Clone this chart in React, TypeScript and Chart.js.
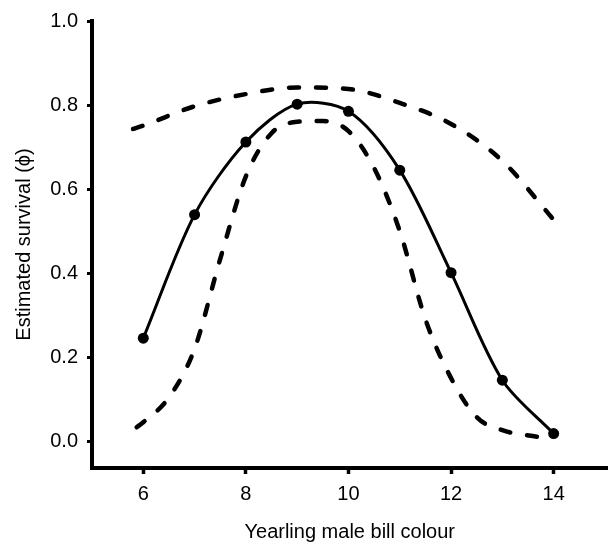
import React, { useEffect, useRef } from "react";
import { Chart, registerables } from "chart.js";

Chart.register(...registerables);

// Fitted survival curve (solid line with points)
const solidX = [6, 7, 8, 9, 10, 11, 12, 13, 14];
const solidY = [0.245, 0.539, 0.712, 0.802, 0.785, 0.645, 0.401, 0.145, 0.018];

// Upper confidence bound (dashed)
const upperX = [5.8, 6, 7, 8, 9, 10, 11, 12, 13, 14];
const upperY = [0.743, 0.751, 0.797, 0.826, 0.842, 0.838, 0.805, 0.755, 0.667, 0.527];

// Lower confidence bound (dashed)
const lowerX = [5.87, 6, 6.5, 7, 7.5, 8, 8.5, 9, 9.5, 10, 10.5, 11, 11.5, 12, 12.5, 13, 13.7];
const lowerY = [0.033, 0.045, 0.104, 0.22, 0.434, 0.63, 0.733, 0.76, 0.762, 0.738, 0.65, 0.5, 0.29, 0.15, 0.057, 0.026, 0.01];

const xTicks = [6, 8, 10, 12, 14];
const yTicks = [0, 0.2, 0.4, 0.6, 0.8, 1.0];

const xTitle = "Yearling male bill colour";
const yTitle = "Estimated survival (\u03D5)";

const FONT = "'Liberation Sans', Arial, Helvetica, sans-serif";

export default function App() {
  const ref = useRef<HTMLCanvasElement | null>(null);

  useEffect(() => {
    if (!ref.current) return;
    const toPts = (xs: number[], ys: number[]) => xs.map((x, i) => ({ x, y: ys[i] }));
    const chart = new Chart(ref.current, {
      type: "line",
      data: {
        datasets: [
          {
            data: toPts(upperX, upperY),
            borderColor: "#000",
            borderWidth: 4.5,
            borderDash: [10, 17],
            borderCapStyle: "round",
            pointRadius: 0,
            cubicInterpolationMode: "monotone",
            fill: false,
          },
          {
            data: toPts(lowerX, lowerY),
            borderColor: "#000",
            borderWidth: 4.5,
            borderDash: [10, 17],
            borderCapStyle: "round",
            pointRadius: 0,
            cubicInterpolationMode: "monotone",
            fill: false,
          },
          {
            data: toPts(solidX, solidY),
            borderColor: "#000",
            borderWidth: 3,
            tension: 0.3,
            pointRadius: 5.5,
            pointBackgroundColor: "#000",
            pointBorderWidth: 0,
            fill: false,
          },
        ],
      },
      options: {
        responsive: false,
        animation: false,
        layout: { padding: { top: 20, right: 0, left: 0, bottom: 0 } },
        plugins: { legend: { display: false }, tooltip: { enabled: false } },
        scales: {
          x: {
            type: "linear",
            min: 5,
            max: 15.05,
            afterFit: (s: any) => {
              s.height = 78;
            },
            afterBuildTicks: (s: any) => {
              s.ticks = xTicks.map((v) => ({ value: v }));
            },
            ticks: {
              color: "#000",
              padding: 8,
              font: { family: FONT, size: 20 },
              callback: (v: any) => String(v),
            },
            grid: {
              display: true,
              drawOnChartArea: false,
              drawTicks: true,
              tickLength: 6,
              tickWidth: 3.5,
              tickColor: "#000",
            },
            border: { display: true, color: "#000", width: 4 },
            title: {
              display: true,
              text: xTitle,
              color: "#000",
              font: { family: FONT, size: 20 },
              padding: { top: 0, bottom: 1.5 },
            },
          },
          y: {
            type: "linear",
            min: -0.064,
            max: 1.0,
            afterFit: (s: any) => {
              s.width = 92;
            },
            afterBuildTicks: (s: any) => {
              s.ticks = yTicks.map((v) => ({ value: v }));
            },
            ticks: {
              color: "#000",
              padding: 9,
              font: { family: FONT, size: 20 },
              callback: (v: any) => Number(v).toFixed(1),
            },
            grid: {
              display: true,
              drawOnChartArea: false,
              drawTicks: true,
              tickLength: 5,
              tickWidth: 3,
              tickColor: "#000",
            },
            border: { display: true, color: "#000", width: 4 },
            title: {
              display: true,
              text: yTitle,
              color: "#000",
              font: { family: FONT, size: 20 },
              padding: { top: 12, bottom: 0 },
            },
          },
        },
      },
    });
    return () => chart.destroy();
  }, []);

  return (
    <div style={{ position: "absolute", left: 0, top: 0, width: 613, height: 546, background: "#fff" }}>
      <canvas ref={ref} width={613} height={546} style={{ width: 613, height: 546 }} />
    </div>
  );
}
